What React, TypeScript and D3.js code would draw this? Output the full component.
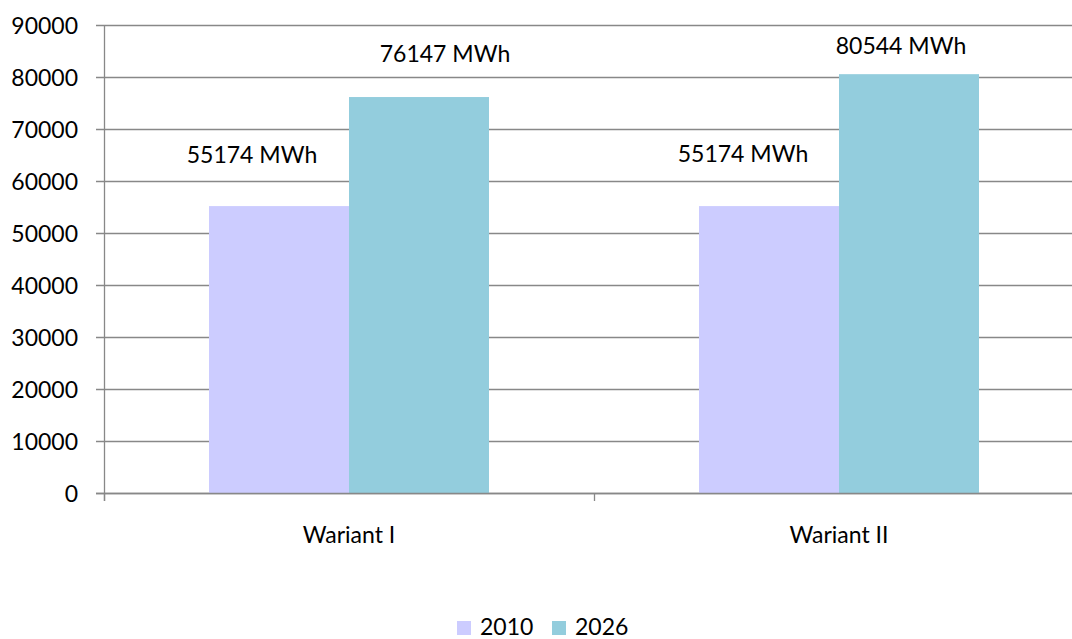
import React from 'react';
import * as d3 from 'd3';

// chart data
const categories = ['Wariant I', 'Wariant II'];
const seriesNames = ['2010', '2026'];
const values2010 = [55174, 55174];
const values2026 = [76147, 80544];
const yTicks = [0, 10000, 20000, 30000, 40000, 50000, 60000, 70000, 80000, 90000];

const colors = ['#CCCCFF', '#93CDDD'];
// manual nudges of the value labels (dx, dy from bar top centre), px
const labelNudge2010 = [[-27, -43], [-26, -44]];
const labelNudge2026 = [[26, -35], [-8, -20]];

const W = 1072;
const H = 639;
const FONT = 'Lato, "Open Sans", sans-serif';
const FS = 23;
const GRID = '#888888';

export default function App() {
  const x0 = d3.scaleBand<string>().domain(categories).range([104, 1084]).paddingInner(0).paddingOuter(0);
  const x1 = d3.scaleBand<string>().domain(seriesNames).range([0, x0.bandwidth()]).paddingInner(0).paddingOuter(0.75);
  const y = d3.scaleLinear().domain([0, 90000]).range([493, 25]);

  const series = [values2010, values2026];
  const nudges = [labelNudge2010, labelNudge2026];
  const bounds = [...categories.map((c) => x0(c) as number), x0.range()[1]];

  return (
    <svg width={W} height={H} style={{ position: 'absolute', left: 0, top: 0, background: '#fff' }} fontFamily={FONT}>
      {/* gridlines + y ticks */}
      {yTicks.map((t) => (
        <g key={t}>
          <line x1={96} x2={1084} y1={y(t) + 0.5} y2={y(t) + 0.5} stroke={GRID} strokeWidth={1.3} />
          <text x={78} y={y(t)} textAnchor="end" dominantBaseline="central" fontSize={FS} fill="#000">
            {t}
          </text>
        </g>
      ))}
      {/* bars */}
      {categories.map((c, i) =>
        series.map((vals, s) => (
          <rect
            key={c + s}
            x={(x0(c) as number) + (x1(seriesNames[s]) as number)}
            y={y(vals[i])}
            width={x1.bandwidth()}
            height={y(0) - y(vals[i])}
            fill={colors[s]}
          />
        ))
      )}
      {/* axes */}
      <line x1={104.5} x2={104.5} y1={25} y2={501} stroke={GRID} strokeWidth={1.3} />
      <line x1={96} x2={1084} y1={y(0) + 0.5} y2={y(0) + 0.5} stroke={GRID} strokeWidth={1.3} />
      {bounds.map((b, i) => (
        <line key={i} x1={b + 0.5} x2={b + 0.5} y1={y(0)} y2={y(0) + 8} stroke={GRID} strokeWidth={1.3} />
      ))}
      {categories.map((c) => (
        <text key={c} x={(x0(c) as number) + x0.bandwidth() / 2} y={543} textAnchor="middle" fontSize={FS} fill="#000">
          {c}
        </text>
      ))}
      {/* value labels */}
      {categories.map((c, i) =>
        series.map((vals, s) => (
          <text
            key={'l' + c + s}
            x={(x0(c) as number) + (x1(seriesNames[s]) as number) + x1.bandwidth() / 2 + nudges[s][i][0]}
            y={y(vals[i]) + nudges[s][i][1]}
            textAnchor="middle"
            fontSize={FS}
            fill="#000"
          >
            {vals[i]} MWh
          </text>
        ))
      )}
      {/* legend */}
      {seriesNames.map((n, s) => (
        <g key={n} transform={`translate(${457 + s * 95},621)`}>
          <rect width={14} height={14} fill={colors[s]} />
          <text x={23} y={14} fontSize={FS} fill="#000">
            {n}
          </text>
        </g>
      ))}
    </svg>
  );
}
